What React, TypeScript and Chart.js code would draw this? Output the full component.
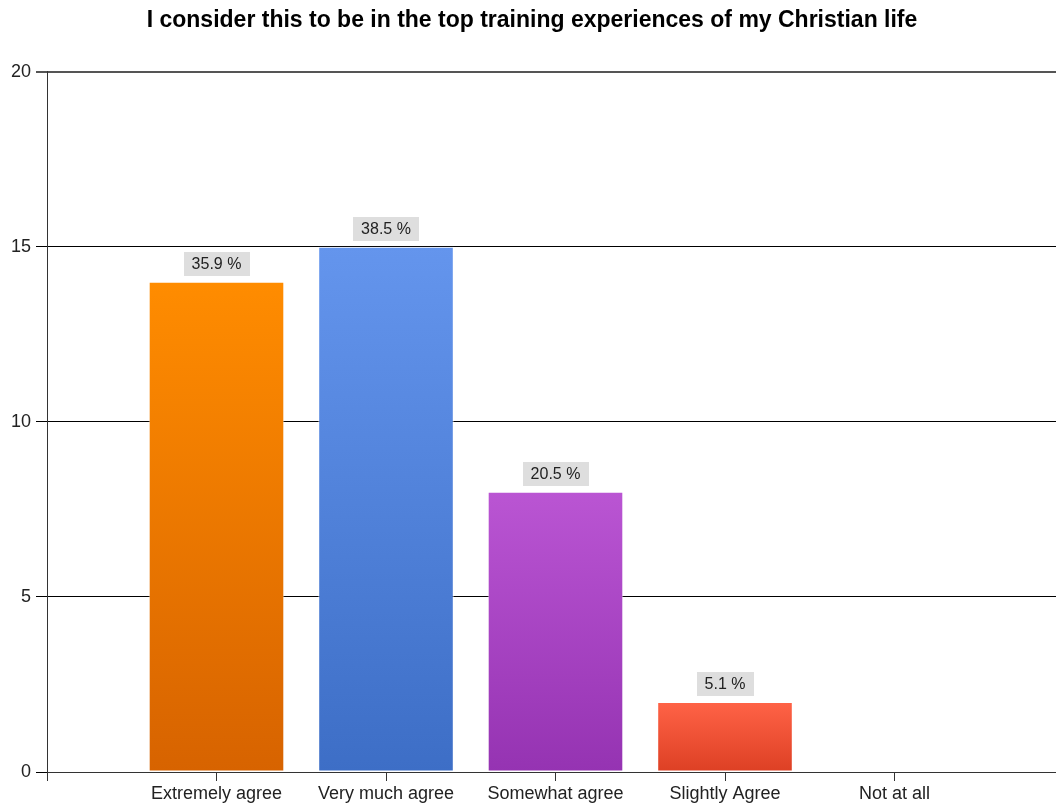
import React, { useEffect, useRef } from "react";
import { Chart, registerables } from "chart.js";

Chart.register(...registerables);

const titleText = "I consider this to be in the top training experiences of my Christian life";
const categories = ["Extremely agree", "Very much agree", "Somewhat agree", "Slightly Agree", "Not at all"];
const counts = [14, 15, 8, 2, 0];
const percentLabels = ["35.9 %", "38.5 %", "20.5 %", "5.1 %", ""];
const topColors = ["#FF8C00", "#6495ED", "#BA55D3", "#FF6347", "#999999"];
const bottomColors = ["#D76300", "#3D6EC6", "#9533B2", "#DD4024", "#999999"];
const yMin = 0;
const yMax = 20;
const yStep = 5;

const FONT = "'Liberation Sans', Arial, sans-serif";

const labelPlugin = {
  id: "pctLabels",
  afterDatasetsDraw(chart: any) {
    const ctx = chart.ctx;
    const meta = chart.getDatasetMeta(0);
    ctx.save();
    ctx.font = `16px ${FONT}`;
    ctx.textAlign = "center";
    ctx.textBaseline = "middle";
    meta.data.forEach((bar: any, i: number) => {
      const idx = i - 1;
      if (idx < 0 || idx >= counts.length) return;
      const txt = percentLabels[idx];
      if (!txt || !counts[idx]) return;
      const w = ctx.measureText(txt).width + 16;
      const h = 24;
      const bottom = bar.y - 6;
      ctx.fillStyle = "#DEDEDE";
      ctx.fillRect(Math.round(bar.x - w / 2), Math.round(bottom - h), Math.round(w), h);
      ctx.fillStyle = "#222";
      ctx.fillText(txt, bar.x, bottom - h / 2 + 1);
    });
    ctx.restore();
  },
};

export default function App() {
  const ref = useRef<HTMLCanvasElement | null>(null);

  useEffect(() => {
    if (!ref.current) return;
    const labels = ["", ...categories, ""];
    const data = [null, ...counts, null];
    const chart = new Chart(ref.current, {
      type: "bar",
      data: {
        labels,
        datasets: [
          {
            data: data as any,
            categoryPercentage: 0.8,
            barPercentage: 1,
            borderWidth: 1,
            borderColor: "rgba(255,255,255,0.55)",
            borderSkipped: false,
            backgroundColor: (c: any) => {
              const idx = c.dataIndex - 1;
              if (idx < 0 || idx >= counts.length) return "transparent";
              const chartObj = c.chart;
              const area = chartObj.chartArea;
              if (!area) return topColors[idx];
              const yScale = chartObj.scales.y;
              const top = yScale.getPixelForValue(counts[idx]);
              const bottom = yScale.getPixelForValue(0);
              if (!isFinite(top) || bottom - top < 1) return topColors[idx];
              const g = chartObj.ctx.createLinearGradient(0, top, 0, bottom);
              g.addColorStop(0, topColors[idx]);
              g.addColorStop(1, bottomColors[idx]);
              return g;
            },
          },
        ],
      },
      options: {
        responsive: false,
        animation: false,
        devicePixelRatio: 1,
        layout: { padding: { left: 0, right: 8, top: 0, bottom: 0 } },
        plugins: {
          legend: { display: false },
          tooltip: { enabled: false },
          title: {
            display: true,
            text: titleText,
            color: "#000",
            font: { family: FONT, size: 23, weight: "bold" },
            padding: { top: 7, bottom: 37 },
          },
        },
        scales: {
          x: {
            type: "category",
            offset: false,
            grid: {
              display: true,
              offset: false,
              drawOnChartArea: false,
              drawTicks: true,
              tickLength: 9,
              color: "#333",
            },
            border: { color: "#333", width: 1 },
            ticks: {
              autoSkip: false,
              maxRotation: 0,
              padding: 2,
              color: "#222",
              font: { family: FONT, size: 18 },
            },
            afterFit: (s: any) => {
              s.height = 37;
            },
          },
          y: {
            min: yMin,
            max: yMax,
            ticks: {
              stepSize: yStep,
              padding: 5,
              color: "#222",
              font: { family: FONT, size: 18 },
            },
            grid: {
              color: (c: any) => (c.tick && c.tick.value === yMax ? "#555" : "#000"),
              lineWidth: (c: any) => (c.tick && c.tick.value === yMax ? 2 : 1),
              tickLength: 11,
            },
            border: { color: "#333", width: 1 },
            afterFit: (s: any) => {
              s.width = 47;
            },
          },
        },
      },
      plugins: [labelPlugin],
    } as any);
    return () => chart.destroy();
  }, []);

  return (
    <div
      style={{
        position: "fixed",
        left: 0,
        top: 0,
        width: 1056,
        height: 809,
        overflow: "hidden",
        background: "#fff",
      }}
    >
      <canvas ref={ref} width={1072} height={809} style={{ display: "block" }} />
    </div>
  );
}
